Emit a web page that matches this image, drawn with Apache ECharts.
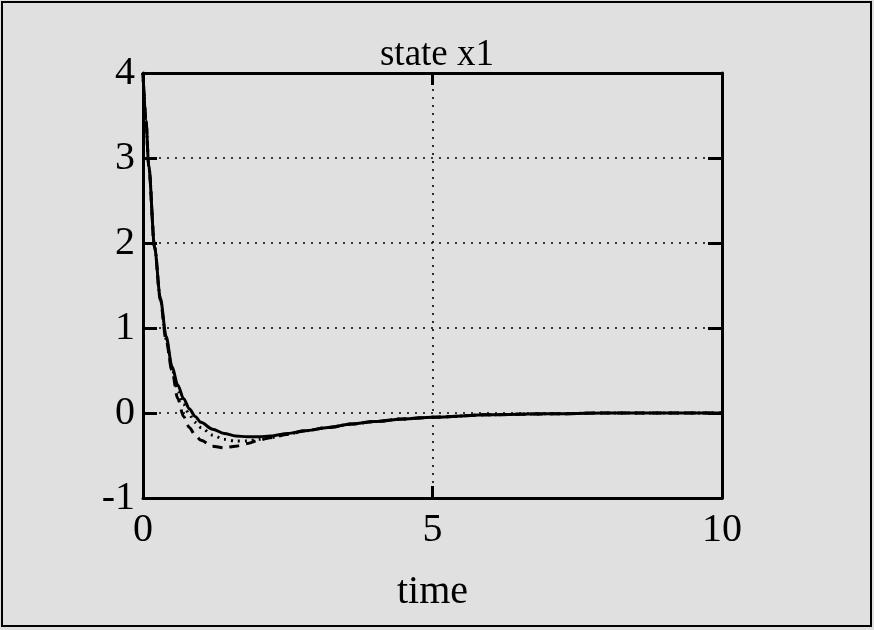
<!DOCTYPE html>
<html>
<head>
<meta charset="utf-8">
<script src="https://cdn.jsdelivr.net/npm/echarts@6/dist/echarts.min.js"></script>
<style>
  html, body { margin: 0; padding: 0; background: #e0e0e0; }
  #chart { width: 874px; height: 630px; }
</style>
</head>
<body>
<div id="chart"></div>
<script>
// Simulated response of state x1 for three controller settings
const time = [0, 0.05, 0.1, 0.2, 0.3, 0.4, 0.5, 0.6, 0.7, 0.8, 0.9, 1.0, 1.2, 1.4, 1.6, 1.8, 2.0, 2.2, 2.5, 2.8, 3.2, 3.6, 4.0, 4.5, 5, 6, 7, 8, 9, 10];
const x1Solid  = [4.0, 3.45, 2.9, 1.95, 1.35, 0.9, 0.55, 0.33, 0.17, 0.05, -0.04, -0.11, -0.19, -0.24, -0.27, -0.28, -0.28, -0.27, -0.24, -0.21, -0.17, -0.13, -0.10, -0.07, -0.05, -0.02, -0.01, 0, 0, 0];
const x1Dotted = [4.0, 3.45, 2.9, 1.95, 1.34, 0.87, 0.52, 0.27, 0.10, -0.02, -0.11, -0.17, -0.26, -0.31, -0.33, -0.33, -0.31, -0.29, -0.25, -0.21, -0.17, -0.13, -0.10, -0.07, -0.05, -0.02, -0.01, 0, 0, 0];
const x1Dashed = [4.0, 3.45, 2.9, 1.95, 1.33, 0.85, 0.50, 0.17, -0.04, -0.17, -0.26, -0.32, -0.39, -0.41, -0.39, -0.36, -0.32, -0.29, -0.25, -0.21, -0.17, -0.13, -0.10, -0.07, -0.05, -0.02, -0.01, 0, 0, 0];
const xTicks = [0, 5, 10];
const yTicks = [-1, 0, 1, 2, 3, 4];

const FONT = '"Liberation Serif", "DejaVu Serif", serif';
const pairs = ys => time.map((t, i) => [t, ys[i]]);

const gridLine = { show: true, lineStyle: { color: '#000', width: 1.6, type: [2, 6] } };
const frame = { show: true, onZero: false, lineStyle: { color: '#000', width: 3 } };
const tick = len => ({ show: true, inside: true, length: len, lineStyle: { color: '#000', width: 3 } });

const chart = echarts.init(document.getElementById('chart'), null, { renderer: 'canvas' });
chart.setOption({
  backgroundColor: '#e0e0e0',
  animation: false,
  title: {
    text: 'state x1',
    left: 432, top: 32, textAlign: 'center',
    textStyle: { fontFamily: FONT, fontSize: 37, fontWeight: 'normal', color: '#000' }
  },
  graphic: [{
    type: 'rect', silent: true,
    shape: { x: 2, y: 2, width: 869, height: 624 },
    style: { fill: 'none', stroke: '#000', lineWidth: 2 }
  }],
  grid: { left: 143, right: 152, top: 73, bottom: 132 },
  xAxis: [{
    type: 'value', position: 'bottom', min: 0, max: 10, interval: 5,
    name: 'time', nameLocation: 'middle', nameGap: 74,
    nameTextStyle: { fontFamily: FONT, fontSize: 40, color: '#000' },
    axisLine: frame, axisTick: tick(12), splitLine: gridLine,
    axisLabel: { fontFamily: FONT, fontSize: 40, color: '#000', margin: 12,
      formatter: v => xTicks.includes(v) ? String(v) : '' }
  }, {
    type: 'value', position: 'top', min: 0, max: 10, interval: 5,
    axisLine: frame, axisTick: tick(12), splitLine: { show: false }, axisLabel: { show: false }
  }],
  yAxis: [{
    type: 'value', position: 'left', min: -1, max: 4, interval: 1,
    axisLine: frame, axisTick: tick(14), splitLine: gridLine,
    axisLabel: { fontFamily: FONT, fontSize: 40, color: '#000', margin: 8,
      formatter: v => yTicks.includes(v) ? String(v) : '' }
  }, {
    type: 'value', position: 'right', min: -1, max: 4, interval: 1,
    axisLine: frame, axisTick: tick(14), splitLine: { show: false }, axisLabel: { show: false }
  }],
  series: [
    { type: 'line', data: pairs(x1Dashed), showSymbol: false, smooth: 0.3, smoothMonotone: 'x',
      lineStyle: { color: '#000', width: 3, type: [10, 7] }, z: 3 },
    { type: 'line', data: pairs(x1Dotted), showSymbol: false, smooth: 0.3, smoothMonotone: 'x',
      lineStyle: { color: '#000', width: 3, type: [2, 5] }, z: 4 },
    { type: 'line', data: pairs(x1Solid), showSymbol: false, smooth: 0.3, smoothMonotone: 'x',
      lineStyle: { color: '#000', width: 3 }, z: 5 }
  ]
});
</script>
</body>
</html>
